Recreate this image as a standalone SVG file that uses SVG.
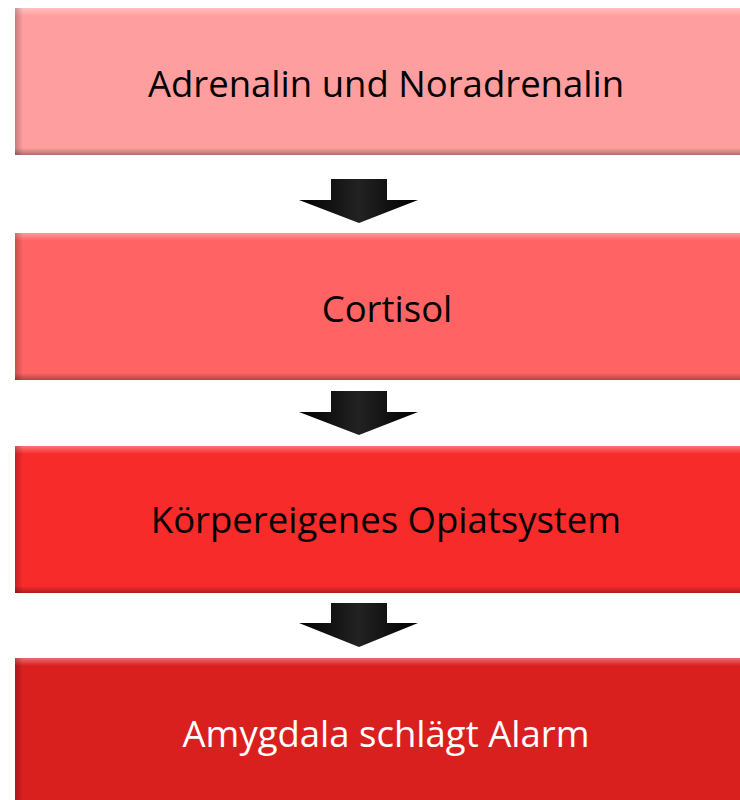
<svg xmlns="http://www.w3.org/2000/svg" width="740" height="800" viewBox="0 0 740 800">
  <defs>
    <linearGradient id="topHi" x1="0" y1="0" x2="0" y2="1">
      <stop offset="0" stop-color="#fff" stop-opacity="0.35"/>
      <stop offset="1" stop-color="#fff" stop-opacity="0"/>
    </linearGradient>
    <linearGradient id="botSh" x1="0" y1="0" x2="0" y2="1">
      <stop offset="0" stop-color="#000" stop-opacity="0"/>
      <stop offset="1" stop-color="#000" stop-opacity="0.3"/>
    </linearGradient>
    <linearGradient id="leftSh" x1="0" y1="0" x2="1" y2="0">
      <stop offset="0" stop-color="#000" stop-opacity="0.22"/>
      <stop offset="1" stop-color="#000" stop-opacity="0"/>
    </linearGradient>
    <linearGradient id="arrowShaft" x1="0" y1="0" x2="1" y2="0">
      <stop offset="0" stop-color="#000"/>
      <stop offset="0.5" stop-color="#222"/>
      <stop offset="1" stop-color="#000"/>
    </linearGradient>
  </defs>
  <style>
    .label { font-family: "Open Sans", "Liberation Sans", sans-serif; font-size: 36.5px; text-anchor: middle; }
    .dark { fill: #000; }
    .light { fill: #fff; }
  </style>

  <!-- process steps -->
  <g id="step-adrenalin">
    <rect x="15" y="8" width="745" height="147" fill="#FF9E9E"/>
    <rect x="15" y="8" width="745" height="8" fill="url(#topHi)"/>
    <rect x="15" y="8" width="8" height="147" fill="url(#leftSh)"/>
    <rect x="15" y="148" width="745" height="7" fill="url(#botSh)"/>
    <text class="label dark" x="386" y="97">Adrenalin und Noradrenalin</text>
  </g>

  <g id="step-cortisol">
    <rect x="15" y="233" width="745" height="147" fill="#FF6363"/>
    <rect x="15" y="233" width="745" height="8" fill="url(#topHi)"/>
    <rect x="15" y="233" width="8" height="147" fill="url(#leftSh)"/>
    <rect x="15" y="373" width="745" height="7" fill="url(#botSh)"/>
    <text class="label dark" x="387" y="322">Cortisol</text>
  </g>

  <g id="step-opiat">
    <rect x="15" y="446" width="745" height="147" fill="#F82B2B"/>
    <rect x="15" y="446" width="745" height="8" fill="url(#topHi)"/>
    <rect x="15" y="446" width="8" height="147" fill="url(#leftSh)"/>
    <rect x="15" y="586" width="745" height="7" fill="url(#botSh)"/>
    <text class="label dark" x="386" y="533">Körpereigenes Opiatsystem</text>
  </g>

  <g id="step-amygdala">
    <rect x="15" y="658" width="745" height="150" fill="#DA1F1F"/>
    <rect x="15" y="658" width="745" height="8" fill="url(#topHi)"/>
    <rect x="15" y="658" width="8" height="150" fill="url(#leftSh)"/>
    <text class="label light" x="386" y="747">Amygdala schlägt Alarm</text>
  </g>

  <!-- down arrows between steps -->
  <g id="connectors">
    <path d="M331,179 H387 V200 H418 L359,223 L299,200 H331 Z" fill="url(#arrowShaft)"/>
    <path d="M331,391 H387 V412 H418 L359,435 L299,412 H331 Z" fill="url(#arrowShaft)"/>
    <path d="M331,603 H387 V623 H418 L359,647 L299,623 H331 Z" fill="url(#arrowShaft)"/>
  </g>
</svg>
